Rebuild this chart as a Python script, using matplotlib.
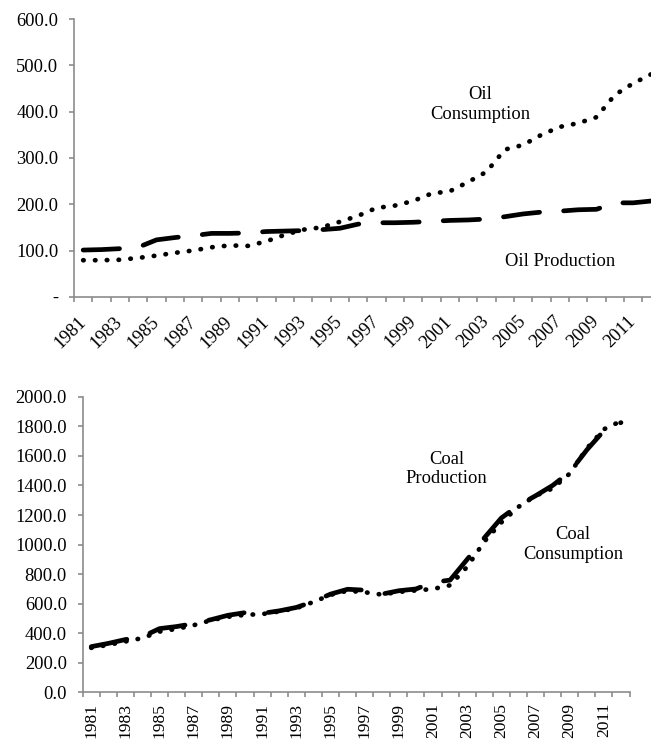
import matplotlib.pyplot as plt
import numpy as np

years = list(range(1981, 2013))

oil_consumption = [79, 79, 80, 84, 89, 95, 100, 107, 111, 110, 120, 134, 145, 150, 162, 175,
                   192, 197, 207, 223, 228, 248, 270, 318, 328, 350, 367, 375, 388, 436, 461, 481]
oil_production = [101, 102, 104, 107, 123, 128, 132, 137, 137, 138, 141, 142, 143, 145, 148, 157,
                  160, 160, 161, 163, 165, 166, 168, 173, 179, 183, 185, 188, 189, 203, 203, 207]

coal_production = [310, 332, 358, 378, 432, 446, 466, 492, 522, 540, 535, 552, 575, 615, 665, 698,
                   692, 665, 688, 700, 745, 760, 900, 1045, 1180, 1265, 1330, 1400, 1490, 1640, 1770, 1825]
coal_consumption = [302, 322, 345, 368, 412, 430, 455, 488, 512, 525, 530, 548, 570, 612, 660, 688,
                    678, 662, 680, 690, 700, 725, 850, 1020, 1150, 1255, 1330, 1380, 1480, 1650, 1780, 1835]

plt.rcParams['font.family'] = ['Liberation Serif', 'DejaVu Serif']
plt.rcParams['font.size'] = 13.3

spine_col = '#8c8c8c'
lw = 3.4
x = np.arange(len(years))

fig = plt.figure(figsize=(6.51, 7.40), dpi=100)
ax1 = fig.add_axes([0.1137, 0.5989, 0.9011, 0.3754])
ax2 = fig.add_axes([0.127, 0.0642, 0.840, 0.3997])


def style_axis(ax, ymax, ystep, fmt):
    for s in ['top', 'right']:
        ax.spines[s].set_visible(False)
    for s in ['left', 'bottom']:
        ax.spines[s].set_color(spine_col)
        ax.spines[s].set_linewidth(1.2)
    ax.set_xlim(-0.5, len(years) - 0.5)
    ax.set_ylim(0, ymax)
    yt = np.arange(0, ymax + 1, ystep)
    ax.set_yticks(yt)
    ax.set_yticklabels([fmt(v) for v in yt])
    ax.tick_params(axis='y', direction='out', length=3.3, width=1.2, color=spine_col, pad=8)
    # category boundaries get tick marks, labels sit on every second category
    ax.set_xticks(np.arange(-0.5, len(years)), minor=True)
    ax.set_xticks(x[::2])
    ax.tick_params(axis='x', which='minor', direction='out', length=3.3, width=1.2, color=spine_col)
    ax.tick_params(axis='x', which='major', length=0)


style_axis(ax1, 600, 100, lambda v: '-' if v == 0 else '%.1f' % v)
style_axis(ax2, 2000, 200, lambda v: '%.1f' % v)

ax1.set_xticklabels([str(y) for y in years[::2]], rotation=45, ha='right', va='center',
                    rotation_mode='anchor')
ax1.tick_params(axis='x', which='major', pad=16)
ax2.set_xticklabels([str(y) for y in years[::2]], rotation=90, ha='center', va='top',
                    fontsize=12.6)
ax2.tick_params(axis='x', which='major', pad=7.5)

dotted = dict(color='black', linewidth=lw, linestyle=(0, (0.1, 2.4)), dash_capstyle='round')
dashed = dict(color='black', linewidth=lw, linestyle=(0, (7.7, 5.1)), dash_capstyle='round')

ax1.plot(x, oil_consumption, **dotted)
ax1.plot(x, oil_production, **dashed)
ax2.plot(x, coal_consumption, **dotted)
ax2.plot(x, coal_production, **dashed)

ax1.text(21.65, 415, 'Oil\nConsumption', ha='center', va='center', linespacing=1.2)
ax1.text(26.0, 76, 'Oil Production', ha='center', va='center')
ax2.text(20.8, 1511, 'Coal\nProduction', ha='center', va='center', linespacing=1.2)
ax2.text(28.2, 999, 'Coal\nConsumption', ha='center', va='center', linespacing=1.2)

plt.savefig('out.png', dpi=100)
